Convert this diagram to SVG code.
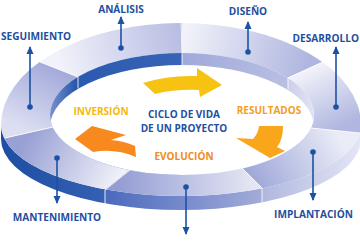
<svg xmlns="http://www.w3.org/2000/svg" width="360" height="243" viewBox="0 0 360 243">
<style>
.lbl{font-family:"Open Sans","Liberation Sans",sans-serif;font-weight:700;font-size:10.1px;fill:#1f4f9f}
.ctr{font-family:"Open Sans","Liberation Sans",sans-serif;font-weight:700;font-size:10px;fill:#1f4f9f;text-anchor:middle}
.org{font-family:"Open Sans","Liberation Sans",sans-serif;font-weight:700;font-size:10px}
.conn line{stroke:#1c52a3;stroke-width:1.6}
.conn circle{fill:#1c52a3}
.seam{stroke:#ffffff;stroke-width:1;opacity:.85;fill:none}
</style>
<defs>
<marker id="ah" viewBox="0 0 8 8" refX="7" refY="4" markerWidth="8" markerHeight="8" markerUnits="userSpaceOnUse" orient="auto">
<path d="M0,0.5 L8,4 L0,7.5 Z" fill="#1c52a3"/>
</marker>
<clipPath id="ringClip"><path clip-rule="evenodd" d="M1,125 A180,102 0 0 1 361,125 A180,71 0 0 1 1,125 Z M50,115 A132,62 0 0 1 314,115 A132,60 0 0 1 50,115 Z"/></clipPath>
<clipPath id="innerClip"><path d="M50,115 A132,62 0 0 1 314,115 A132,60 0 0 1 50,115 Z"/></clipPath>
<linearGradient id="gDis" gradientUnits="userSpaceOnUse" x1="305" y1="70" x2="182" y2="38"><stop offset="0" stop-color="#b0b6e0"/><stop offset="1" stop-color="#f2f3fa"/></linearGradient>
<linearGradient id="gAna" gradientUnits="userSpaceOnUse" x1="182" y1="38" x2="59" y2="70"><stop offset="0" stop-color="#b8bde3"/><stop offset="1" stop-color="#f2f3fa"/></linearGradient>
<linearGradient id="gSeg" gradientUnits="userSpaceOnUse" x1="59" y1="70" x2="29" y2="132"><stop offset="0" stop-color="#a3aada"/><stop offset="1" stop-color="#dcdff2"/></linearGradient>
<linearGradient id="gMan" gradientUnits="userSpaceOnUse" x1="29" y1="132" x2="118" y2="180"><stop offset="0" stop-color="#98a0d4"/><stop offset="1" stop-color="#f0f1f9"/></linearGradient>
<linearGradient id="gBot" gradientUnits="userSpaceOnUse" x1="118" y1="180" x2="252" y2="178"><stop offset="0" stop-color="#949dd3"/><stop offset="1" stop-color="#e4e6f4"/></linearGradient>
<linearGradient id="gImp" gradientUnits="userSpaceOnUse" x1="252" y1="178" x2="335" y2="130"><stop offset="0" stop-color="#a0a8d9"/><stop offset="1" stop-color="#eaecf7"/></linearGradient>
<linearGradient id="gDes" gradientUnits="userSpaceOnUse" x1="335" y1="130" x2="305" y2="70"><stop offset="0" stop-color="#b0b6e0"/><stop offset="1" stop-color="#f2f3fa"/></linearGradient>
<linearGradient id="gSide" gradientUnits="userSpaceOnUse" x1="0" y1="0" x2="360" y2="0">
<stop offset="0" stop-color="#1b4ea2"/><stop offset="0.29" stop-color="#3560b3"/>
<stop offset="0.291" stop-color="#4a69bd"/><stop offset="0.727" stop-color="#a3acd9"/>
<stop offset="0.728" stop-color="#b0b7df"/><stop offset="1" stop-color="#e4e6f5"/>
</linearGradient>
<linearGradient id="gWall" gradientUnits="userSpaceOnUse" x1="50" y1="0" x2="314" y2="0">
<stop offset="0" stop-color="#7890cf"/><stop offset="0.105" stop-color="#2453a8"/>
<stop offset="0.106" stop-color="#2a5ab0"/><stop offset="0.5" stop-color="#3864b7"/>
<stop offset="0.501" stop-color="#a0a9d9"/><stop offset="0.9" stop-color="#b9bfe3"/>
<stop offset="0.902" stop-color="#cbcfeb"/><stop offset="1" stop-color="#e2e4f4"/>
</linearGradient>
</defs>
<rect width="360" height="243" fill="#ffffff"/>

<g id="ring">
<path d="M1,125 A180,71 0 0 0 361,125 L361,139 A180,71 0 0 1 1,139 Z" fill="url(#gSide)"/>
<g clip-path="url(#ringClip)">
<polygon points="182,115 182,65 182,-30 460,-30 428,14 274,84" fill="url(#gDis)"/>
<polygon points="182,115 88,81 -74,17 -74,-30 182,-30 182,65" fill="url(#gAna)"/>
<polygon points="182,115 63,125 -91,160 -91,17 -74,17 88,81" fill="url(#gSeg)"/>
<polygon points="182,115 138,163 5,270 -91,270 -91,160 63,125" fill="url(#gMan)"/>
<polygon points="182,115 234,160 342,268 5,270 138,163" fill="url(#gBot)"/>
<polygon points="182,115 301,127 458,143 458,268 342,268 234,160" fill="url(#gImp)"/>
<polygon points="182,115 274,84 428,14 458,14 458,143 301,127" fill="url(#gDes)"/>
</g>
<path d="M50,115 A132,62 0 0 1 314,115 A132,60 0 0 1 50,115 Z" fill="url(#gWall)"/>
<g clip-path="url(#innerClip)">
<path d="M50,127 A132,62 0 0 1 314,127 A132,60 0 0 1 50,127 Z" fill="#ffffff"/>
</g>
<g class="seam">
<line x1="182" y1="53" x2="181" y2="23"/>
<line x1="288" y1="78" x2="323" y2="62"/>
<line x1="311" y1="128" x2="360" y2="133"/>
<line x1="242" y1="168" x2="262" y2="188"/>
<line x1="130" y1="170" x2="105" y2="190"/>
<line x1="53" y1="127" x2="5" y2="138"/>
<line x1="78" y1="77" x2="40" y2="62"/>
<line x1="78" y1="77" x2="78" y2="88.5"/>
<line x1="182" y1="53" x2="182" y2="65"/>
<line x1="288" y1="78" x2="288" y2="89.5"/>
<line x1="105" y1="190" x2="105" y2="204"/>
<line x1="262" y1="188" x2="262" y2="202"/>
</g>
</g>

<g id="cycle-arrows">
<path d="M143,83 Q168,75 197,76 L197,68 L222,85 L200,97 L199,90 Q176,89 155,94 Z" fill="#f7c312"/>
<path d="M259,126 L283,126 Q283,140 277,147 L285,151 L270,158 L236,138 L253,139 Q258,134 259,126 Z" fill="#f9a61b"/>
<path d="M92,126 L126,135 L111,140 Q124,141 135,146 L136,157 Q115,148 93,152 L75,139 Z" fill="#f7891f"/>
</g>

<g id="connectors" class="conn">
<line x1="121" y1="48" x2="121" y2="17" marker-end="url(#ah)"/><circle cx="121" cy="48" r="2.8"/>
<line x1="248" y1="52" x2="248" y2="22" marker-end="url(#ah)"/><circle cx="248" cy="52" r="2.8"/>
<line x1="336" y1="107" x2="336" y2="47" marker-end="url(#ah)"/><circle cx="336" cy="107" r="2.8"/>
<line x1="30" y1="107" x2="30" y2="47" marker-end="url(#ah)"/><circle cx="30" cy="107" r="2.8"/>
<line x1="57" y1="158" x2="57" y2="203" marker-end="url(#ah)"/><circle cx="57" cy="158" r="2.8"/>
<line x1="186" y1="187" x2="186" y2="234" marker-end="url(#ah)"/><circle cx="186" cy="187" r="2.8"/>
<line x1="313" y1="152" x2="313" y2="200" marker-end="url(#ah)"/><circle cx="313" cy="152" r="2.8"/>
</g>

<g id="n-analisis"><text class="lbl" x="121" y="13" text-anchor="middle">ANÁLISIS</text></g>
<g id="n-diseno"><text class="lbl" x="248" y="15" text-anchor="middle">DISEÑO</text></g>
<g id="n-desarrollo"><text class="lbl" x="359" y="41.5" text-anchor="end">DESARROLLO</text></g>
<g id="n-seguimiento"><text class="lbl" x="1" y="40">SEGUIMIENTO</text></g>
<g id="n-mantenimiento"><text class="lbl" x="57" y="221" text-anchor="middle">MANTENIMIENTO</text></g>
<g id="n-implantacion"><text class="lbl" x="313.5" y="218" text-anchor="middle">IMPLANTACIÓN</text></g>

<g id="center">
<text class="ctr" x="184" y="117.5">CICLO DE VIDA</text>
<text class="ctr" x="184" y="131.5">DE UN PROYECTO</text>
</g>
<g id="phases">
<text class="org" x="101" y="115" text-anchor="middle" fill="#f6b80f">INVERSIÓN</text>
<text class="org" x="269" y="114" text-anchor="middle" fill="#f39c1d">RESULTADOS</text>
<text class="org" x="184" y="160" text-anchor="middle" fill="#f08b21">EVOLUCIÓN</text>
</g>
</svg>
